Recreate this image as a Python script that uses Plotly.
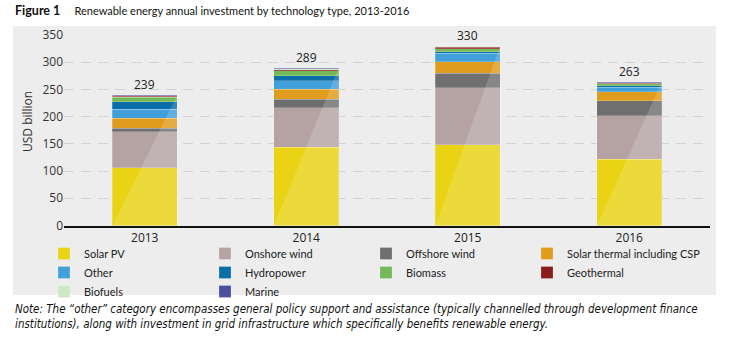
import plotly.graph_objects as go

years = ["2013", "2014", "2015", "2016"]
totals = [239, 289, 330, 263]

series_names = ["Solar PV", "Onshore wind", "Offshore wind", "Solar thermal including CSP",
                "Other", "Hydropower", "Biomass", "Geothermal", "Biofuels", "Marine"]
solar_pv = [106, 144, 148, 122]
onshore_wind = [66, 72, 105, 80]
offshore_wind = [7, 16, 27, 27.5]
solar_thermal = [18, 18, 20.5, 16.5]
other = [17, 16, 16, 8]
hydropower = [13, 9, 3, 3]
biomass = [8.5, 9, 5, 3]
geothermal = [2, 2, 3, 1.5]
biofuels = [1, 2, 2, 1]
marine = [0.5, 1, 0.5, 0.5]
series_values = [solar_pv, onshore_wind, offshore_wind, solar_thermal, other,
                 hydropower, biomass, geothermal, biofuels, marine]
colors = ["#e9d314", "#b5a3a4", "#6f6f6f", "#e09c1c", "#41a0da",
          "#0b6ea8", "#74b857", "#8c1b1b", "#cde8c6", "#4b4f9f"]

W, H = 731, 341
BAR_W = 0.4
xpos = list(range(len(years)))
LEG_COLS = 4
legend_ids = ["legend", "legend2", "legend3", "legend4"]

fig = go.Figure()
for k, (name, vals, col) in enumerate(zip(series_names, series_values, colors)):
    fig.add_trace(go.Bar(x=xpos, y=vals, name=name, width=BAR_W, legend=legend_ids[k % LEG_COLS],
                         marker=dict(color=col, line=dict(color="rgba(255,255,255,0.35)", width=0.6))))

# light diagonal sheen over each bar
for i in xpos:
    stack_top = sum(v[i] for v in series_values)
    fig.add_trace(go.Scatter(x=[i - BAR_W / 2, i + BAR_W / 2, i + BAR_W / 2, i - BAR_W / 2],
                             y=[0, stack_top, 0, 0], mode="lines", fill="toself",
                             fillcolor="rgba(255,255,255,0.17)", line=dict(width=0),
                             showlegend=False, hoverinfo="skip"))

# total labels
for i, t in zip(xpos, totals):
    stack_top = sum(v[i] for v in series_values)
    fig.add_annotation(x=i, y=stack_top, text=str(t), showarrow=False, yanchor="bottom",
                       font=dict(size=12, color="#222", family="Open Sans"))

# grey panel
fig.add_shape(type="rect", xref="paper", yref="paper", x0=13 / W, x1=716 / W,
              y0=1 - 295 / H, y1=1 - 26 / H, fillcolor="#ededed", line=dict(width=0), layer="below")

fig.add_annotation(xref="paper", yref="paper", x=13 / W, y=1 - 11 / H, xanchor="left", yanchor="middle",
                   showarrow=False,
                   text="<span style='font-size:12.5px'><b>Figure 1</b></span>&nbsp;&nbsp;&nbsp;&nbsp;&nbsp;Renewable energy annual investment by technology type, 2013-2016",
                   font=dict(size=11, color="#111", family="Lato"))
fig.add_annotation(xref="paper", yref="paper", x=27 / W, y=1 - 122 / H, xanchor="center", yanchor="middle",
                   showarrow=False, textangle=-90, text="USD billion",
                   font=dict(size=12, color="#333", family="Open Sans"))
fig.add_annotation(xref="paper", yref="paper", x=13 / W, y=1 - 316 / H, xanchor="left", yanchor="middle",
                   showarrow=False, align="left",
                   text="<i>Note: The \u201cother\u201d category encompasses general policy support and assistance (typically channelled through development finance<br>institutions), along with investment in grid infrastructure which specifically benefits renewable energy.</i>",
                   font=dict(size=11.5, color="#111", family="Liberation Sans Narrow, DejaVu Sans Condensed"))

legend_style = dict(orientation="v", yanchor="top", xanchor="left", y=1 - 239 / H,
                    font=dict(size=11, color="#222", family="Lato"),
                    bgcolor="rgba(0,0,0,0)", itemwidth=30, tracegroupgap=0, traceorder="normal")
legends = {lid: dict(legend_style, x=(44 + 161 * c) / W) for c, lid in enumerate(legend_ids)}

fig.update_layout(
    width=W, height=H, margin=dict(l=0, r=0, t=0, b=0),
    paper_bgcolor="white", plot_bgcolor="rgba(0,0,0,0)",
    barmode="stack", showlegend=True,
    xaxis=dict(domain=[64 / W, 710 / W], range=[-0.5, 3.5], tickvals=xpos, ticktext=years,
               showgrid=False, zeroline=False, showline=True, linecolor="#111", linewidth=1.5,
               ticks="", tickfont=dict(size=12, color="#222", family="Open Sans"), automargin=False),
    yaxis=dict(domain=[1 - 225.5 / H, 1 - 35 / H], range=[0, 350], dtick=50,
               showgrid=True, gridcolor="#d3d3d3", griddash="10px,7px", gridwidth=1,
               zeroline=False, ticks="", tickfont=dict(size=12, color="#333", family="Open Sans"),
               automargin=False),
    **legends,
)

fig.write_html("out.html")
